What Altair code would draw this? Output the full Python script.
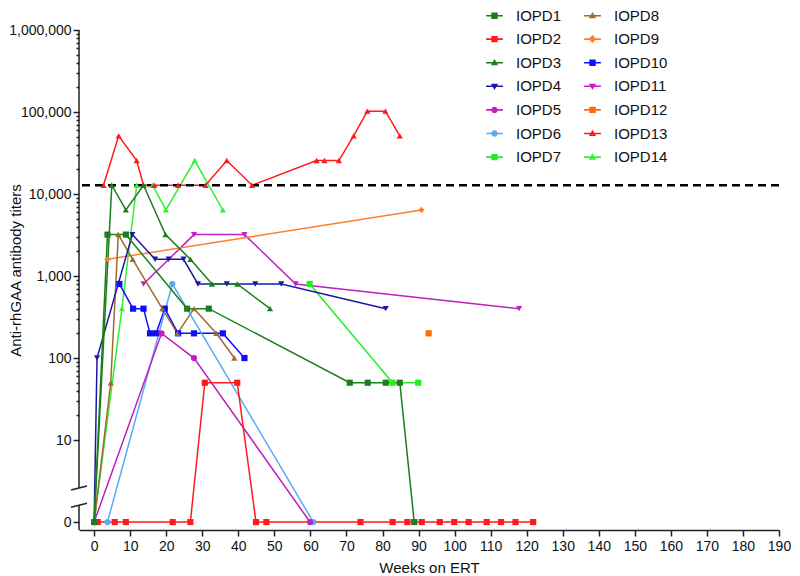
import altair as alt
import pandas as pd

FONT = "Liberation Sans"

SERIES = ["IOPD1", "IOPD2", "IOPD3", "IOPD4", "IOPD5", "IOPD6", "IOPD7",
          "IOPD8", "IOPD9", "IOPD10", "IOPD11", "IOPD12", "IOPD13", "IOPD14"]
COLORS = ["#1a7f1a", "#ff1a1a", "#1a7f1a", "#1a1aa6", "#bf1fbf", "#5ca8f5", "#22ee22",
          "#9c6b30", "#ff7f2a", "#0d0dff", "#c21fc2", "#ff6a0d", "#ff1a1a", "#33f033"]
SHAPES = ["square", "square", "triangle-up", "triangle-down", "circle", "circle", "square",
          "triangle-up", "diamond", "square", "triangle-down", "square", "triangle-up", "triangle-up"]

# legend symbols: marker + short line
BAR = "M-2.1,-0.2H2.1V0.2H-2.1Z"
SYM_PATHS = {
    "square": "M-0.8,-0.8H0.8V0.8H-0.8Z",
    "triangle-up": "M0,-0.95L0.9,0.65H-0.9Z",
    "triangle-down": "M0,0.95L-0.9,-0.65H0.9Z",
    "circle": "M-0.8,0A0.8,0.8 0 1,1 0.8,0A0.8,0.8 0 1,1 -0.8,0Z",
    "diamond": "M0,-1L1,0L0,1L-1,0Z",
}

# data (titer 0 shown on the axis-break "0" level)
iopd1_weeks = [0, 3.7, 8.8, 25.8, 31.8, 70.9, 75.9, 80.9, 84.8, 88.8]
iopd1_titers = [0, 3200, 3200, 400, 400, 50, 50, 50, 50, 0]
iopd2_weeks = [1, 5.7, 8.8, 21.8, 26.7, 30.7, 39.7, 44.9, 47.8, 73.9, 82.8, 86.9,
               90.9, 95.9, 99.9, 103.9, 108.9, 112.9, 116.9, 121.8]
iopd2_titers = [0, 0, 0, 0, 0, 50, 50, 0, 0, 0, 0, 0, 0, 0, 0, 0, 0, 0, 0, 0]
iopd3_weeks = [0, 4.9, 8.8, 13.7, 19.8, 26.7, 32.7, 39.7, 48.8]
iopd3_titers = [0, 12800, 6400, 12800, 3200, 1600, 800, 800, 400]
iopd4_weeks = [0, 0.8, 10.6, 16.9, 20.7, 24.8, 28.8, 36.8, 44.7, 51.9, 80.9]
iopd4_titers = [0, 100, 3200, 1600, 1600, 1600, 800, 800, 800, 800, 400]
iopd5_weeks = [0, 18.7, 27.7, 59.9]
iopd5_titers = [0, 200, 100, 0]
iopd6_weeks = [3.7, 21.7, 60.8]
iopd6_titers = [0, 800, 0]
iopd7_weeks = [59.8, 82.8, 89.9]
iopd7_titers = [800, 50, 50]
iopd8_weeks = [0, 4.6, 6.7, 10.7, 18.9, 23.1, 27.7, 33.9, 38.9]
iopd8_titers = [0, 50, 3200, 1600, 400, 200, 400, 200, 100]
iopd9_weeks = [3.7, 90.8]
iopd9_titers = [1600, 6400]
iopd10_weeks = [7, 10.8, 13.7, 15.5, 17.2, 19.6, 23.3, 27.7, 35.7, 41.7]
iopd10_titers = [800, 400, 400, 200, 200, 400, 200, 200, 200, 100]
iopd11_weeks = [13.7, 27.7, 41.7, 55.9, 117.9]
iopd11_titers = [800, 3200, 3200, 800, 400]
iopd12_weeks = [92.8]
iopd12_titers = [200]
iopd13_weeks = [2.6, 6.8, 11.8, 13.7, 16.7, 23.3, 30.9, 36.8, 43.8, 61.7, 63.9, 67.9,
                72, 75.8, 80.8, 84.8]
iopd13_titers = [12800, 51200, 25600, 12800, 12800, 12800, 12800, 25600, 12800, 25600,
                 25600, 25600, 51200, 102400, 102400, 51200]
iopd14_weeks = [0, 7.7, 11.8, 16.2, 19.9, 27.9, 35.7]
iopd14_titers = [0, 400, 12800, 12800, 6400, 25600, 6400]

ALL = [
    (iopd1_weeks, iopd1_titers), (iopd2_weeks, iopd2_titers), (iopd3_weeks, iopd3_titers),
    (iopd4_weeks, iopd4_titers), (iopd5_weeks, iopd5_titers), (iopd6_weeks, iopd6_titers),
    (iopd7_weeks, iopd7_titers), (iopd8_weeks, iopd8_titers), (iopd9_weeks, iopd9_titers),
    (iopd10_weeks, iopd10_titers), (iopd11_weeks, iopd11_titers), (iopd12_weeks, iopd12_titers),
    (iopd13_weeks, iopd13_titers), (iopd14_weeks, iopd14_titers),
]

THRESHOLD = [12800]
X_TICKS = list(range(0, 191, 10))
Y_MAJOR = [1, 10, 100, 1000, 10000, 100000, 1000000]
Y_MINOR = [m * 10 ** e for e in range(1, 6) for m in range(2, 10)]
AXIS_TOP_SEGMENT = [1000000, 2.6]
AXIS_BOTTOM_SEGMENT = [1.6, 0.8]
BREAK_LEVELS = [2.6, 1.6]

rows = []
for name, (wk, ti) in reversed(list(zip(SERIES, ALL))):
    for w, t in zip(wk, ti):
        rows.append({"series": name, "week": w, "titer": t, "ypos": t if t > 0 else 1})
df = pd.DataFrame(rows)

xscale = alt.Scale(domain=[-4.2, 190], nice=False, zero=False)
yscale = alt.Scale(type="log", domain=[0.8, 1000000], nice=False)

color_scale = alt.Scale(domain=SERIES, range=COLORS)
shape_scale = alt.Scale(domain=SERIES, range=SHAPES)
leg_paths = [BAR + SYM_PATHS[s] for s in SHAPES]

major_test = "indexof([1,10,100,1000,10000,100000,1000000], datum.value) >= 0"

x_axis = alt.Axis(values=X_TICKS, title="Weeks on ERT", grid=False, tickSize=6,
                  labelFontSize=14, titleFontSize=15, titleFontWeight="normal",
                  labelPadding=3, titlePadding=7, domainColor="#222", tickColor="#222",
                  domainWidth=1.5, tickWidth=1.5, labelColor="#111", titleColor="#111",
                  labelFont=FONT, titleFont=FONT, labelFlush=False)
y_axis = alt.Axis(values=Y_MAJOR + Y_MINOR, title="Anti-rhGAA antibody titers", grid=False,
                  domain=False,
                  tickSize={"condition": {"test": major_test, "value": 6}, "value": 3},
                  labelExpr="datum.value == 1 ? '0' : (" + major_test + " ? format(datum.value, ',') : '')",
                  labelOverlap=False, labelFontSize=14, titleFontSize=15,
                  titleFontWeight="normal", labelPadding=2, tickColor="#222", tickWidth=1.5,
                  labelColor="#111", titleColor="#111", labelFont=FONT, titleFont=FONT,
                  titleX=-64, titleY=240, titleBaseline="middle", labelFlush=False)

X = alt.X("week:Q", scale=xscale, axis=x_axis)
Y = alt.Y("ypos:Q", scale=yscale, axis=y_axis)

lines = alt.Chart(df).mark_line(strokeWidth=1.5).encode(
    x=X, y=Y,
    color=alt.Color("series:N", scale=color_scale, legend=None),
    order=alt.Order("week:Q"),
)

thr = alt.Chart(pd.DataFrame({"t": THRESHOLD})).mark_rule(
    strokeDash=[8, 5], strokeWidth=2.5, color="black"
).encode(y=alt.Y("t:Q", scale=yscale, axis=y_axis))

points = alt.Chart(df).mark_point(filled=True, size=38, opacity=1).encode(
    x=X, y=Y,
    color=alt.Color("series:N", scale=color_scale, legend=None),
    shape=alt.Shape("series:N", scale=shape_scale, legend=None),
)

legend_kw = dict(orient="none", legendX=408, legendY=-22, columns=2, symbolSize=64,
                 labelFontSize=15, labelFont=FONT, labelColor="#111", labelOffset=14,
                 columnPadding=19, rowPadding=7.6, title=None, padding=0, symbolOpacity=1)
legend_layer = alt.Chart(df).transform_filter("false").mark_point(
    filled=True, size=64, opacity=1
).encode(
    x=X, y=Y,
    color=alt.Color("series:N", scale=alt.Scale(domain=SERIES, range=COLORS),
                    legend=alt.Legend(**legend_kw)),
    shape=alt.Shape("series:N", scale=alt.Scale(domain=SERIES, range=leg_paths),
                    legend=alt.Legend(**legend_kw)),
)

seg_df = pd.DataFrame({"y1": [AXIS_TOP_SEGMENT[0], AXIS_BOTTOM_SEGMENT[0]],
                       "y2": [AXIS_TOP_SEGMENT[1], AXIS_BOTTOM_SEGMENT[1]]})
axis_line = alt.Chart(seg_df).mark_rule(strokeWidth=1.5, color="#222").encode(
    x=alt.value(0),
    y=alt.Y("y1:Q", scale=yscale, axis=y_axis),
    y2=alt.Y2("y2"),
)

breaks = alt.Chart(pd.DataFrame({"b": BREAK_LEVELS})).mark_rule(
    strokeWidth=1.5, color="#222", yOffset=2, y2Offset=-2
).encode(
    x=alt.value(-8), x2=alt.value(8),
    y=alt.Y("b:Q", scale=yscale, axis=y_axis), y2=alt.Y2("b"),
)

chart = alt.layer(lines, thr, points, axis_line, breaks, legend_layer).resolve_scale(
    color="independent", shape="independent"
).properties(
    width=700, height=500,
    padding={"left": 0, "top": 0, "right": 0, "bottom": 0},
).configure(font=FONT).configure_view(stroke=None)

chart.save("out.html", embed_options={"renderer": "svg", "actions": False})
